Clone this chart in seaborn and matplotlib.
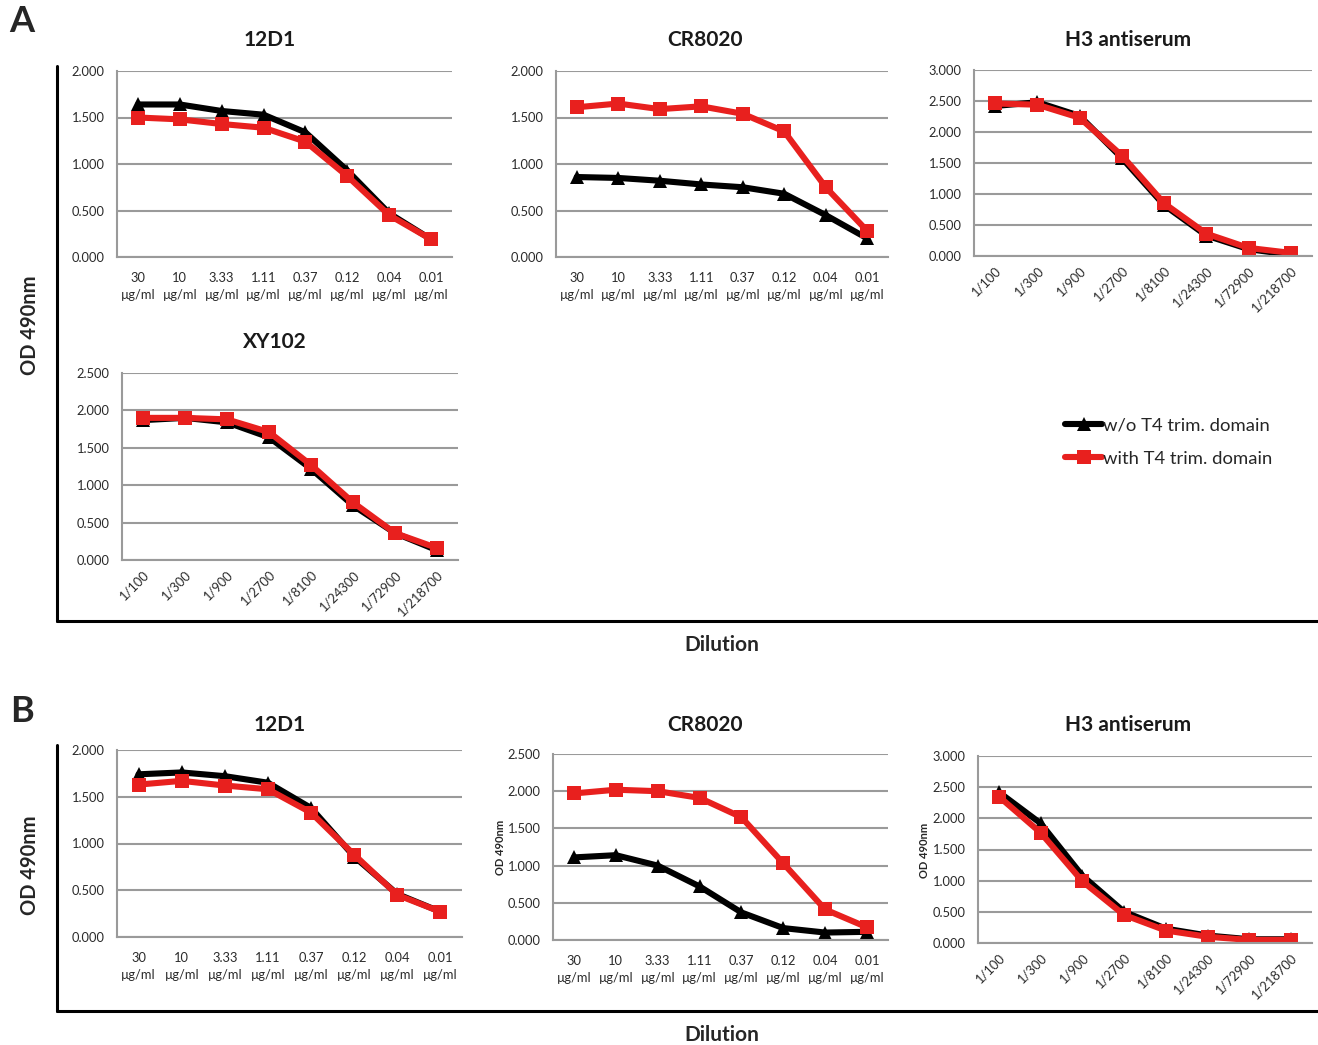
import numpy as np
import pandas as pd
import matplotlib
matplotlib.use('Agg')
import matplotlib.pyplot as plt
from matplotlib.lines import Line2D
from matplotlib.ticker import FormatStrFormatter, MultipleLocator
import seaborn as sns

# --- data ---
CONC_LABELS = ['30\nµg/ml', '10\nµg/ml', '3.33\nµg/ml', '1.11\nµg/ml',
               '0.37\nµg/ml', '0.12\nµg/ml', '0.04\nµg/ml', '0.01\nµg/ml']
DIL_LABELS = ['1/100', '1/300', '1/900', '1/2700', '1/8100', '1/24300', '1/72900', '1/218700']

SERIES = ['w/o T4 trim. domain', 'with T4 trim. domain']

a_12d1_wo = [1.64, 1.64, 1.57, 1.53, 1.34, 0.93, 0.47, 0.19]
a_12d1_with = [1.50, 1.48, 1.43, 1.39, 1.24, 0.87, 0.45, 0.19]
a_cr8020_wo = [0.86, 0.85, 0.82, 0.78, 0.75, 0.68, 0.45, 0.20]
a_cr8020_with = [1.61, 1.65, 1.59, 1.62, 1.54, 1.35, 0.75, 0.28]
a_h3_wo = [2.42, 2.48, 2.26, 1.58, 0.82, 0.33, 0.11, 0.02]
a_h3_with = [2.46, 2.44, 2.23, 1.62, 0.85, 0.36, 0.13, 0.05]
a_xy102_wo = [1.87, 1.90, 1.84, 1.64, 1.22, 0.73, 0.36, 0.13]
a_xy102_with = [1.90, 1.90, 1.88, 1.71, 1.27, 0.77, 0.36, 0.16]

b_12d1_wo = [1.74, 1.76, 1.72, 1.65, 1.38, 0.86, 0.46, 0.27]
b_12d1_with = [1.63, 1.67, 1.62, 1.58, 1.33, 0.88, 0.45, 0.27]
b_cr8020_wo = [1.11, 1.14, 1.00, 0.72, 0.37, 0.16, 0.10, 0.11]
b_cr8020_with = [1.97, 2.02, 2.00, 1.91, 1.65, 1.03, 0.41, 0.17]
b_h3_wo = [2.42, 1.92, 1.08, 0.50, 0.23, 0.12, 0.06, 0.06]
b_h3_with = [2.35, 1.77, 0.99, 0.45, 0.20, 0.10, 0.05, 0.05]

W, H = 1318, 1045

sns.set_theme(style='white')
plt.rcParams['font.family'] = ['Lato', 'DejaVu Sans']

fig = plt.figure(figsize=(W / 100, H / 100), dpi=100)
fig.patch.set_facecolor('white')

PALETTE = {SERIES[0]: 'black', SERIES[1]: '#e8201e'}
MARKERS = {SERIES[0]: '^', SERIES[1]: 's'}
LW = 4.4
MS = 9.5


def px_axes(left, right, top, bottom):
    return fig.add_axes([left / W, 1 - bottom / H, (right - left) / W, (bottom - top) / H])


def panel(box, wo, withd, labels, ymax, title, title_xy, rotate=False, ylab_xy=None):
    ax = px_axes(*box)
    df = pd.DataFrame({
        'pos': list(range(8)) * 2,
        'od': wo + withd,
        'series': [SERIES[0]] * 8 + [SERIES[1]] * 8,
    })
    sns.lineplot(data=df, x='pos', y='od', hue='series', style='series',
                 palette=PALETTE, markers=MARKERS, dashes=False, hue_order=SERIES,
                 linewidth=LW, markersize=MS, markeredgewidth=0, ax=ax, legend=False)
    ax.set_xlim(-0.5, 7.5)
    ax.set_ylim(0, ymax)
    ax.yaxis.set_major_locator(MultipleLocator(0.5))
    ax.yaxis.set_major_formatter(FormatStrFormatter('%.3f'))
    ax.grid(axis='y', color='#9a9a9a', linewidth=1.5)
    ax.set_axisbelow(True)
    for side in ['top', 'right']:
        ax.spines[side].set_visible(False)
    for side in ['left', 'bottom']:
        ax.spines[side].set_color('#9a9a9a')
        ax.spines[side].set_linewidth(1.5)
    ax.set_xticks(range(8))
    if rotate:
        ax.set_xticklabels(labels, rotation=45, ha='right', rotation_mode='anchor')
        ax.tick_params(axis='x', pad=6)
    else:
        ax.set_xticklabels(labels, linespacing=1.45)
        ax.tick_params(axis='x', pad=11)
    ax.tick_params(axis='both', length=0, labelsize=9.3, colors='#2a2a2a')
    ax.tick_params(axis='y', pad=9)
    ax.set_xlabel('')
    ax.set_ylabel('')
    fig.text(title_xy[0] / W, 1 - title_xy[1] / H, title, ha='center', va='center',
             fontsize=15, fontweight='bold', color='#1a1a1a')
    if ylab_xy is not None:
        fig.text(ylab_xy[0] / W, 1 - ylab_xy[1] / H, 'OD 490nm', rotation=90,
                 ha='center', va='center', fontsize=8, fontweight='bold')
    return ax


# panel A
panel((117, 452, 71, 257), a_12d1_wo, a_12d1_with, CONC_LABELS, 2.0, '12D1', (270, 40))
panel((556, 888, 71, 257), a_cr8020_wo, a_cr8020_with, CONC_LABELS, 2.0, 'CR8020', (705, 40))
panel((974, 1312, 70, 256), a_h3_wo, a_h3_with, DIL_LABELS, 3.0, 'H3 antiserum', (1128, 40), rotate=True)
panel((122, 458, 373, 560), a_xy102_wo, a_xy102_with, DIL_LABELS, 2.5, 'XY102', (275, 342), rotate=True)

# panel B
panel((117, 462, 750, 937), b_12d1_wo, b_12d1_with, CONC_LABELS, 2.0, '12D1', (280, 725))
panel((553, 888, 754, 940), b_cr8020_wo, b_cr8020_with, CONC_LABELS, 2.5, 'CR8020', (705, 725),
      ylab_xy=(500, 847))
panel((978, 1312, 756, 943), b_h3_wo, b_h3_with, DIL_LABELS, 3.0, 'H3 antiserum', (1128, 725),
      rotate=True, ylab_xy=(925, 850))

# legend
handles = [Line2D([], [], color=PALETTE[s], marker=MARKERS[s], markersize=MS + 1,
                  markeredgewidth=0, linewidth=LW) for s in SERIES]
fig.legend(handles, SERIES, loc='upper left', bbox_to_anchor=(1058 / W, 1 - 410 / H),
           frameon=False, fontsize=13.3, handlelength=2.0, handletextpad=0.05,
           labelspacing=0.95, borderaxespad=0)

# frames, panel letters and shared labels
for top, bottom in [(66, 621), (745, 1011)]:
    fig.add_artist(Line2D([57 / W, 57 / W], [1 - top / H, 1 - bottom / H],
                          transform=fig.transFigure, color='black', linewidth=2.2))
    fig.add_artist(Line2D([57 / W, 1.0], [1 - bottom / H, 1 - bottom / H],
                          transform=fig.transFigure, color='black', linewidth=2.2))

fig.text(22 / W, 1 - 22 / H, 'A', ha='center', va='center', fontsize=26, fontweight='bold')
fig.text(22 / W, 1 - 712 / H, 'B', ha='center', va='center', fontsize=26, fontweight='bold')
fig.text(30 / W, 1 - 325 / H, 'OD 490nm', rotation=90, ha='center', va='center',
         fontsize=14.5, fontweight='bold')
fig.text(30 / W, 1 - 865 / H, 'OD 490nm', rotation=90, ha='center', va='center',
         fontsize=14.5, fontweight='bold')
fig.text(722 / W, 1 - 645 / H, 'Dilution', ha='center', va='center', fontsize=15, fontweight='bold')
fig.text(722 / W, 1 - 1035 / H, 'Dilution', ha='center', va='center', fontsize=15, fontweight='bold')

fig.savefig('out.png', dpi=100, facecolor='white')
plt.close(fig)
